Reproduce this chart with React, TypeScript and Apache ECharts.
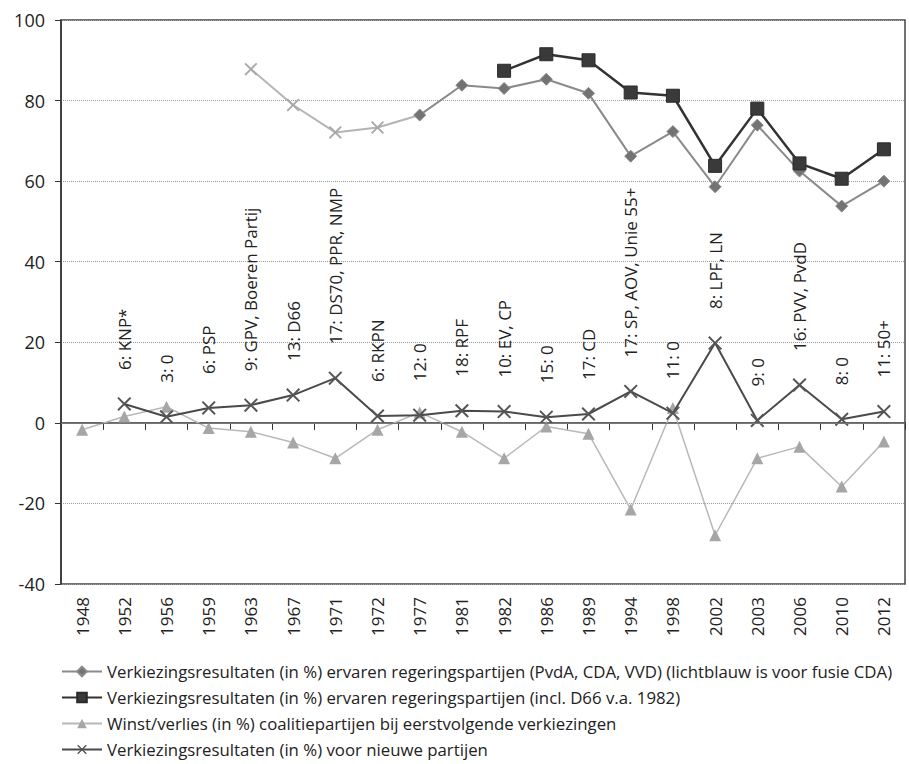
import React, { useEffect, useRef } from "react";
import * as echarts from "echarts";

const years = ["1948", "1952", "1956", "1959", "1963", "1967", "1971", "1972", "1977", "1981", "1982", "1986", "1989", "1994", "1998", "2002", "2003", "2006", "2010", "2012"];

const coalitionCore = [null, null, null, null, null, null, null, null, 76.4, 83.8, 83.0, 85.3, 81.8, 66.2, 72.3, 58.6, 73.9, 62.5, 53.8, 60.0];
const coalitionFusion = [null, null, null, null, 87.8, 78.9, 72.1, 73.3, 76.4, null, null, null, null, null, null, null, null, null, null, null];
const coalitionD66 = [null, null, null, null, null, null, null, null, null, null, 87.4, 91.5, 90.0, 82.0, 81.2, 63.8, 78.0, 64.4, 60.6, 67.9];
const winLoss = [-1.7, 1.6, 4.0, -1.3, -2.2, -4.9, -8.8, -1.7, 2.6, -2.2, -8.8, -0.9, -2.7, -21.5, 3.7, -27.9, -8.8, -5.9, -15.8, -4.6];
const newParties = [null, 4.7, 1.5, 3.7, 4.4, 6.9, 11.1, 1.7, 1.9, 3.0, 2.8, 1.4, 2.2, 7.8, 2.4, 19.8, 0.6, 9.4, 0.9, 2.8];
const newPartyLabels = ["", "6: KNP*", "3: 0", "6: PSP", "9: GPV, Boeren Partij", "13: D66", "17: DS70, PPR, NMP", "6: RKPN", "12: 0", "18: RPF", "10: EV, CP", "15: 0", "17: CD", "17: SP, AOV, Unie 55+", "11: 0", "8: LPF, LN", "9: 0", "16: PVV, PvdD", "8: 0", "11: 50+"];

const seriesNames = [
  "Verkiezingsresultaten (in %) ervaren regeringspartijen (PvdA, CDA, VVD) (lichtblauw is voor fusie CDA)",
  "Verkiezingsresultaten (in %) ervaren regeringspartijen (incl. D66 v.a. 1982)",
  "Winst/verlies (in %) coalitiepartijen bij eerstvolgende verkiezingen",
  "Verkiezingsresultaten (in %) voor nieuwe partijen",
];

const yMin = -40;
const yMax = 100;
const yInterval = 20;

const FONT = "'Open Sans', 'Noto Sans', sans-serif";
const X_SYMBOL = "path://M1,0 L5,4 L9,0 L10,1 L6,5 L10,9 L9,10 L5,6 L1,10 L0,9 L4,5 L0,1 Z";

export default function App() {
  const ref = useRef<HTMLDivElement>(null);

  useEffect(() => {
    if (!ref.current) return;
    const chart = echarts.init(ref.current, null, { renderer: "svg" });
    const lastFusion = coalitionFusion.reduce((acc, v, i) => (v !== null ? i : acc), -1);
    chart.setOption({
      animation: false,
      backgroundColor: "#ffffff",
      textStyle: { fontFamily: FONT },
      grid: {
        left: 61,
        right: 4,
        top: 20,
        bottom: 180,
        show: true,
        borderColor: "#444",
        borderWidth: 1.5,
      },
      legend: {
        orient: "vertical",
        left: 61,
        top: 662,
        height: 102,
        padding: 0,
        itemWidth: 40,
        itemHeight: 12,
        itemGap: 7,
        data: seriesNames,
        textStyle: { fontSize: 16.8, color: "#222", fontFamily: FONT, lineHeight: 19 },
      },
      xAxis: {
        type: "category",
        data: years,
        boundaryGap: true,
        axisLine: { lineStyle: { color: "#333", width: 1.5 } },
        axisTick: { show: true, length: 7, lineStyle: { color: "#333" } },
        axisLabel: { rotate: 90, fontSize: 17, color: "#222", margin: 13, fontFamily: FONT },
        splitLine: { show: false },
      },
      yAxis: {
        type: "value",
        min: yMin,
        max: yMax,
        interval: yInterval,
        axisLine: { show: true, lineStyle: { color: "#333", width: 1.5 } },
        axisTick: { show: true, length: 6, lineStyle: { color: "#333" } },
        axisLabel: { fontSize: 18, color: "#222", margin: 16, fontFamily: FONT },
        splitLine: { show: true, lineStyle: { color: "#9a9a9a", type: "dotted", width: 1 } },
      },
      series: [
        {
          name: "fusie",
          type: "line",
          data: coalitionFusion.map((v, i) => (i === lastFusion ? { value: v, symbol: "none" } : v)),
          symbol: X_SYMBOL,
          symbolSize: 13,
          lineStyle: { color: "#b4b4b4", width: 2 },
          itemStyle: { color: "#a8a8a8" },
          z: 2,
        },
        {
          name: seriesNames[0],
          type: "line",
          data: coalitionCore,
          symbol: "diamond",
          symbolSize: 12,
          lineStyle: { color: "#8a8a8a", width: 2 },
          itemStyle: { color: "#737373", borderColor: "#8a8a8a", borderWidth: 1 },
          z: 3,
        },
        {
          name: seriesNames[1],
          type: "line",
          data: coalitionD66,
          symbol: "rect",
          symbolSize: 13,
          lineStyle: { color: "#333333", width: 2.5 },
          itemStyle: { color: "#3a3a3a", borderColor: "#2a2a2a", borderWidth: 1 },
          z: 4,
        },
        {
          name: seriesNames[2],
          type: "line",
          data: winLoss,
          symbol: "triangle",
          symbolSize: 12,
          lineStyle: { color: "#b8b8b8", width: 1.5 },
          itemStyle: { color: "#a6a6a6" },
          z: 2,
          markLine: {
            silent: true,
            symbol: "none",
            label: { show: false },
            lineStyle: { color: "#777", type: "solid", width: 1 },
            data: [{ yAxis: 0 }],
          },
        },
        {
          name: seriesNames[3],
          type: "line",
          data: newParties,
          symbol: X_SYMBOL,
          symbolSize: 14,
          lineStyle: { color: "#4a4a4a", width: 2 },
          itemStyle: { color: "#555555" },
          z: 3,
          label: {
            show: true,
            position: "top",
            distance: 27,
            rotate: 90,
            align: "left",
            verticalAlign: "middle",
            fontSize: 17,
            color: "#222",
            fontFamily: FONT,
            formatter: (p: any) => newPartyLabels[p.dataIndex] || "",
          },
        },
      ],
    });
    return () => chart.dispose();
  }, []);

  return (
    <div
      ref={ref}
      style={{ position: "fixed", left: 0, top: 0, width: 909, height: 764, background: "#fff" }}
    />
  );
}
